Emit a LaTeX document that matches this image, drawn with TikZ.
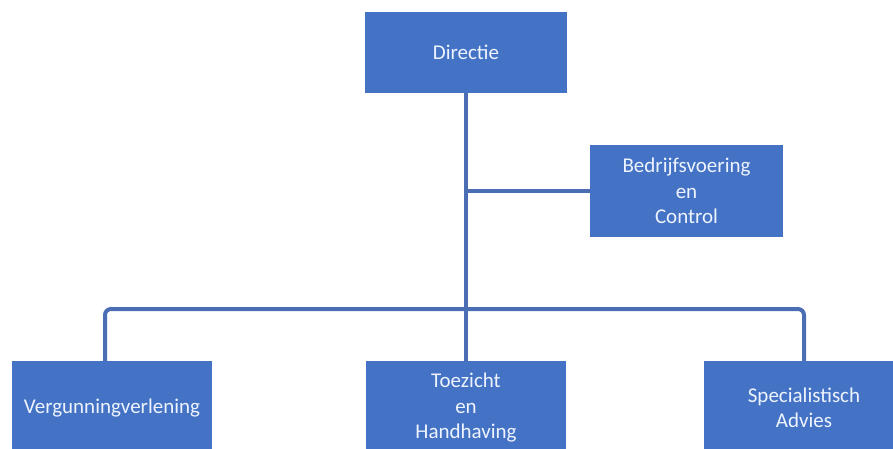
\documentclass[tikz,border=0pt]{standalone}
\usepackage{fontspec}
\setmainfont{Carlito}
\usetikzlibrary{positioning}
\definecolor{boxblue}{HTML}{4472C4}
\definecolor{lineblue}{HTML}{4A6DB3}
\definecolor{boxtext}{HTML}{EEF4FF}

\begin{document}
\begin{tikzpicture}
        [x=1pt, y=-1pt, font=\fontsize{21}{25.5}\selectfont,
        unit/.style={fill=boxblue, text=boxtext, align=center,
        inner sep=0pt, minimum width=200pt, minimum height=94pt},
        link/.style={draw=lineblue, line width=4pt, rounded corners=6pt}]
        \clip (0,0) rectangle (893,449);
        \node[unit, minimum width=202pt, minimum height=81pt] (dir) at (466,52.5) {Directie};
        \node[unit, minimum width=193pt, minimum height=92pt] (bedr) at (686.5,191)
            {Bedrijfsvoering\\en\\Control};
        \node[unit] (verg) at (112,408) {Vergunningverlening};
        \node[unit] (toez) at (466,408) {Toezicht\\en\\Handhaving};
        \node[unit] (spec) at (804,408) {Specialistisch\\Advies};
        \coordinate (bar) at (466,309);
        % lines
        \draw[link] (dir) -- (toez);
        \draw[link] (bedr.west) -- (bedr.west -| dir.south);
        \draw[link] ([xshift=-7pt]verg.north) |- (bar) -| (spec.north);
\end{tikzpicture}
\end{document}
